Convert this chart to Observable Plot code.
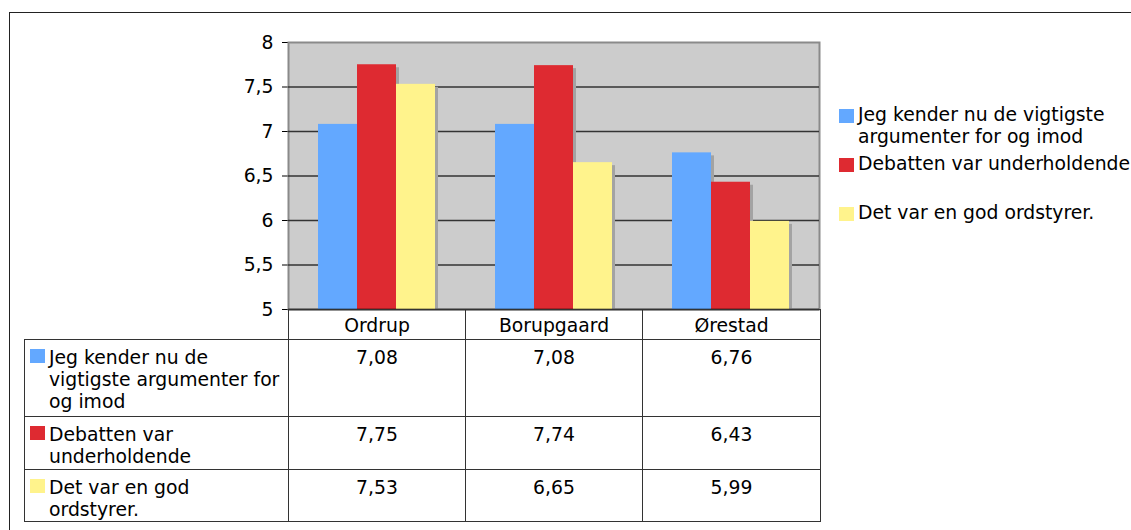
<!DOCTYPE html>
<html><head><meta charset="utf-8">
<script src="https://cdn.jsdelivr.net/npm/d3@7"></script>
<script src="https://cdn.jsdelivr.net/npm/@observablehq/plot@0.6"></script>
<style>
body{margin:0;background:#fff;font-family:"DejaVu Sans",Verdana,sans-serif;color:#000;}
#wrap{position:relative;width:1131px;height:530px;overflow:hidden;background:#fff;}
#frame{position:absolute;left:9px;top:12px;width:1140px;height:540px;border-top:1.5px solid #222;border-left:1.5px solid #222;}
#chart{position:absolute;left:0;top:0;}
#legend{position:absolute;left:839px;top:104px;font-size:18.8px;line-height:22px;white-space:nowrap;}
#legend .li{position:relative;height:49px;}
#legend .sw{position:absolute;left:0;top:5px;width:15px;height:14px;}
#legend .lt{position:absolute;left:19px;top:0;}
#tbl{position:absolute;left:24px;top:309px;border-collapse:collapse;table-layout:fixed;font-size:18.8px;line-height:22px;}
#tbl td{border:1.5px solid #333;vertical-align:top;padding:7px 0 0 0;box-sizing:border-box;white-space:nowrap;}
#tbl td.num{text-align:center;}
#tbl td.hd{text-align:center;padding-top:5px;}
#tbl td.blank{border:none;border-right:1.5px solid #333;}
#tbl td.lab{position:relative;padding-left:24px;}
#tbl .sw{position:absolute;left:5px;top:9px;width:15px;height:14px;}
</style></head>
<body><div id="wrap"><div id="frame"></div><div id="chart"></div><div id="legend"></div><table id="tbl"></table></div>
<script>
const locations = ["Ordrup", "Borupgaard", "Ørestad"];
const seriesNames = ["Jeg kender nu de vigtigste argumenter for og imod", "Debatten var underholdende", "Det var en god ordstyrer."];
const jegKender = [7.08, 7.08, 6.76];
const debatten = [7.75, 7.74, 6.43];
const ordstyrer = [7.53, 6.65, 5.99];
const seriesColors = ["#63a8ff", "#de2a31", "#fff38c"];
const yTicks = [5, 5.5, 6, 6.5, 7, 7.5, 8];
const legendLines = [["Jeg kender nu de vigtigste", "argumenter for og imod"], ["Debatten var underholdende"], ["Det var en god ordstyrer."]];
const tableLines = [["Jeg kender nu de", "vigtigste argumenter for", "og imod"], ["Debatten var", "underholdende"], ["Det var en god", "ordstyrer."]];

const seriesValues = [jegKender, debatten, ordstyrer];
const data = [];
seriesNames.forEach((s, i) => locations.forEach((loc, j) => data.push({series: s, loc, value: seriesValues[i][j]})));
const fmt = v => String(v).replace(".", ",");

const chart = Plot.plot({
  width: 830, height: 320,
  marginLeft: 288, marginRight: 11, marginTop: 42, marginBottom: 11,
  style: {fontFamily: "DejaVu Sans, Verdana, sans-serif", fontSize: "18.8px", color: "#000", background: "transparent", overflow: "visible"},
  fx: {domain: locations, padding: 0, axis: null},
  x: {domain: seriesNames, paddingInner: 0, paddingOuter: 0.75, axis: null},
  y: {domain: [5, 8], ticks: yTicks, tickFormat: fmt, tickSize: 6, tickPadding: 9, line: true, label: null},
  color: {domain: seriesNames, range: seriesColors},
  marks: [
    Plot.frame({facet: "super", fill: "#cccccc", stroke: "#8a8a8a", strokeWidth: 2}),
    Plot.ruleY(yTicks.filter(d => d > 5 && d < 8), {stroke: "#333", strokeWidth: 1.5}),
    Plot.barY(data, {fx: "loc", x: "series", y1: 5, y2: "value", fill: "#a3a3a3", dx: 3, dy: 3, insetBottom: 3}),
    Plot.barY(data, {fx: "loc", x: "series", y1: 5, y2: "value", fill: "series"}),
    Plot.ruleY([5], {stroke: "#000", strokeWidth: 1.5})
  ]
});
document.getElementById("chart").appendChild(chart);

// legend
const lg = document.getElementById("legend");
seriesNames.forEach((s, i) => {
  const li = document.createElement("div"); li.className = "li";
  li.innerHTML = `<span class="sw" style="background:${seriesColors[i]}"></span><span class="lt">${legendLines[i].join("<br>")}</span>`;
  lg.appendChild(li);
});

// data table
const tbl = document.getElementById("tbl");
const colW = [264, 177, 177, 178];
const cg = document.createElement("colgroup");
colW.forEach(w => { const c = document.createElement("col"); c.style.width = w + "px"; cg.appendChild(c); });
tbl.appendChild(cg);
const rowH = [30, 77, 53, 52];
let tr = document.createElement("tr"); tr.style.height = rowH[0] + "px";
tr.innerHTML = `<td class="blank"></td>` + locations.map(l => `<td class="hd">${l}</td>`).join("");
tbl.appendChild(tr);
seriesNames.forEach((s, i) => {
  const r = document.createElement("tr"); r.style.height = rowH[i + 1] + "px";
  r.innerHTML = `<td class="lab"><span class="sw" style="background:${seriesColors[i]}"></span>${tableLines[i].join("<br>")}</td>` +
    seriesValues[i].map(v => `<td class="num">${fmt(v.toFixed(2))}</td>`).join("");
  tbl.appendChild(r);
});
</script></body></html>
